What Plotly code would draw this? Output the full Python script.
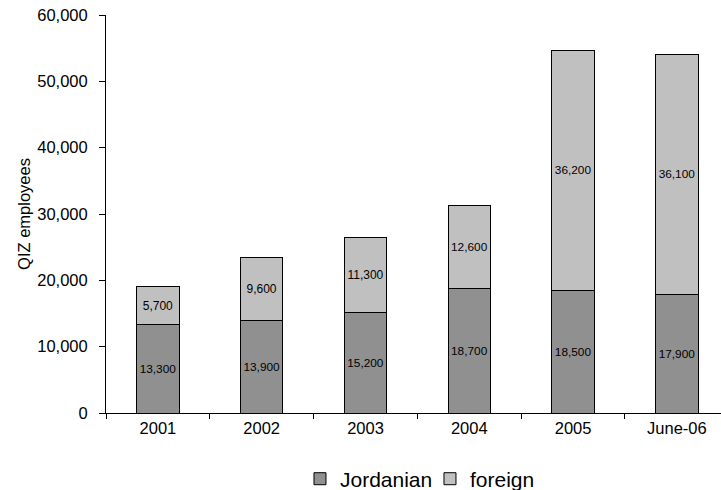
import plotly.graph_objects as go

categories = ["2001", "2002", "2003", "2004", "2005", "June-06"]
jordanian = [13300, 13900, 15200, 18700, 18500, 17900]
foreign = [5700, 9600, 11300, 12600, 36200, 36100]

FONT = "Liberation Sans, Arial, sans-serif"

fig = go.Figure()
fig.add_trace(go.Bar(
    x=categories, y=jordanian, name="Jordanian",
    marker=dict(color="#909090", line=dict(color="black", width=1)),
    text=jordanian, texttemplate="%{y:,}", textposition="inside",
    insidetextanchor="middle", textangle=0,
    textfont=dict(size=12, color="black", family=FONT),
))
fig.add_trace(go.Bar(
    x=categories, y=foreign, name="foreign",
    marker=dict(color="#c0c0c0", line=dict(color="black", width=1)),
    text=foreign, texttemplate="%{y:,}", textposition="inside",
    insidetextanchor="middle", textangle=0,
    textfont=dict(size=12, color="black", family=FONT),
))

fig.update_layout(
    barmode="stack",
    bargap=0.59,
    width=721, height=490,
    margin=dict(l=106, r=0, t=15, b=77, autoexpand=False),
    paper_bgcolor="white", plot_bgcolor="white",
    font=dict(family=FONT, color="black", size=16),
    showlegend=True,
    legend=dict(
        orientation="h", x=0.3154, xanchor="left", y=-0.166, yanchor="middle",
        font=dict(size=21), traceorder="normal", itemwidth=30,
        entrywidth=85, entrywidthmode="pixels",
    ),
    xaxis=dict(
        type="category", range=[-0.5, 5.425],
        showline=True, linecolor="black", linewidth=1,
        ticks="outside", ticklen=5, tickcolor="black", tickson="boundaries",
        tickfont=dict(size=16.5), showgrid=False, zeroline=False,
    ),
    yaxis=dict(
        range=[0, 60000], tickvals=[0, 10000, 20000, 30000, 40000, 50000, 60000],
        tickformat=",", showline=True, linecolor="black", linewidth=1,
        ticks="outside", ticklen=6, tickcolor="black",
        tickfont=dict(size=16.5), ticklabelstandoff=8,
        showgrid=False, zeroline=False,
        title=dict(text="QIZ employees", font=dict(size=16.5), standoff=2),
    ),
)

fig.write_html("out.html")
